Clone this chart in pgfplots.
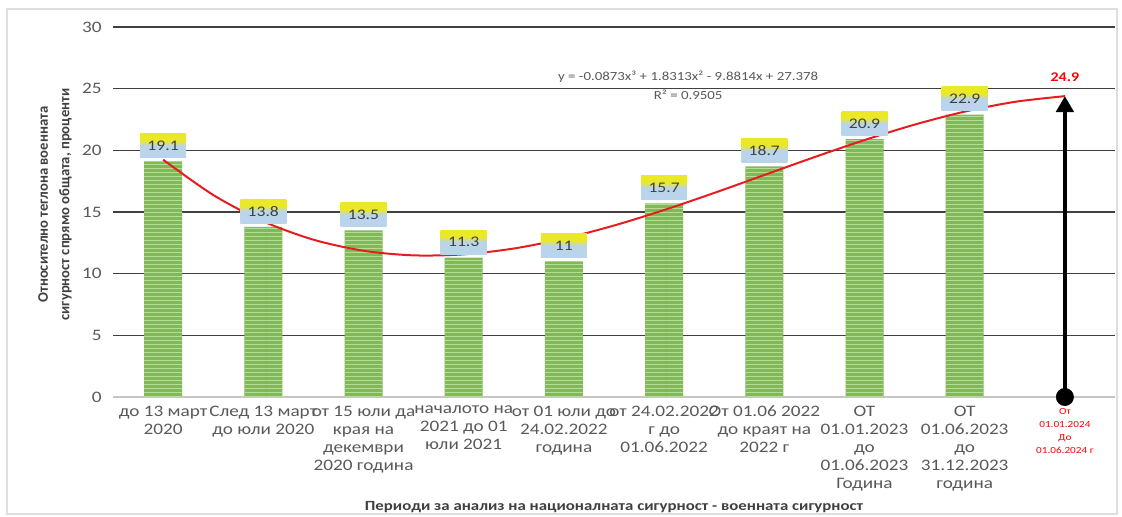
\documentclass[border=0pt]{standalone}
\usepackage{pgfplots}
\pgfplotsset{compat=1.18}
\usepackage{fontspec}
\setmainfont{Carlito}[FakeStretch=1.2]
\newfontfamily\ylabfont{Carlito}
\usetikzlibrary{patterns,arrows.meta}
\definecolor{barfill}{RGB}{128,186,88}
\definecolor{barline}{RGB}{182,220,152}
\definecolor{lyel}{RGB}{235,232,40}
\definecolor{lblue}{RGB}{185,212,235}
\definecolor{tickgray}{RGB}{89,89,89}
\definecolor{gridc}{RGB}{64,64,64}
\definecolor{trend}{RGB}{228,30,30}
\definecolor{frame}{RGB}{222,222,222}
\pgfdeclareverticalshading{lblshade}{100bp}{color(0bp)=(lblue); color(50bp)=(lblue); color(61bp)=(lyel); color(100bp)=(lyel)}
\begin{document}
\begin{tikzpicture}
\begin{axis}[
  width=751.5pt, height=277.5pt, scale only axis,
  xmin=0.5, xmax=10.5, ymin=0, ymax=30,
  clip=false,
  axis x line*=bottom, axis y line*=left,
  x axis line style={draw=gray!45, line width=1.5pt},
  y axis line style={draw=none},
  major tick length=0pt,
  ytick={5,10,...,30}, extra y ticks={0}, extra y tick style={grid=none},
  ymajorgrids, grid style={gridc, line width=1pt},
  /pgf/number format/assume math mode=true,
  yticklabel style={text=tickgray, font=\fontsize{12}{14}\selectfont, xshift=-5pt},
  xtick={1,...,10},
  xticklabels={
    {до 13 март\\2020},
    {След 13 март\\до юли 2020},
    {от 15 юли да\\края на\\декември\\2020 година},
    {началото на\\2021 до 01\\юли 2021},
    {от 01 юли до\\24.02.2022\\година},
    {от 24.02.2022\\г до\\01.06.2022},
    {От 01.06 2022\\до краят на\\2022 г},
    {ОТ\\01.01.2023\\до\\01.06.2023\\Година},
    {ОТ\\01.06.2023\\до\\31.12.2023\\година},
    {{\color{red}\fontsize{7}{9.75}\selectfont\begin{tabular}{@{}c@{}}От\\01.01.2024\\До\\01.06.2024 г\end{tabular}}}
  },
  xticklabel style={text=tickgray, font=\fontsize{12}{13.5}\selectfont, align=center, anchor=north, yshift=-3pt},
  bar width=28.5pt,
  ylabel={Относително теглона военната\\сигурност спрямо общата, проценти},
  ylabel style={at={(rel axis cs:-0.0579,0.52)}, anchor=center, align=center, text=gridc, font=\ylabfont\bfseries\fontsize{11}{16}\selectfont},
  xlabel={Периоди за анализ на националната сигурност - военната сигурност},
  xlabel style={at={(rel axis cs:0.5,0)}, anchor=center, yshift=-82.5pt, text=gridc, font=\bfseries\fontsize{10.5}{12}\selectfont},
]
\addplot[ybar, fill=barfill, draw=none,
  postaction={pattern=horizontal lines, pattern color=barline},
  nodes near coords,
  every node near coord/.style={shade, shading=lblshade, minimum width=34.5pt, minimum height=18pt, inner sep=0pt, anchor=south, yshift=2.5pt, text=gridc, font=\fontsize{11}{12}\selectfont}
] coordinates {(1,19.1) (2,13.8) (3,13.5) (4,11.3) (5,11) (6,15.7) (7,18.7) (8,20.9) (9,22.9)};

\addplot[trend, line width=1.5pt, smooth] coordinates {
 (1,19.241) (1.5,16.382) (2,14.242) (2.5,12.756) (3,11.858) (3.5,11.484)
 (4,11.566) (4.5,12.040) (5,12.841) (5.5,13.903) (6,15.160) (6.5,16.546)
 (7,17.998) (7.5,19.448) (8,20.832) (8.5,22.085) (9,23.139) (9.5,23.931) (10,24.394)};

\addplot[black, line width=3.5pt, -{Triangle[width=13pt,length=12pt]}] coordinates {(10,0) (10,24.394)}
  node[pos=1, anchor=south, yshift=6pt, text=red, font=\bfseries\fontsize{10}{12}\selectfont] {24.9};
\addplot[only marks, mark=*, mark size=6.5pt, black] coordinates {(10,0)};

\node[text=tickgray, font=\fontsize{9.3}{11}\selectfont] at (axis cs:6.24,25.95) {y = -0.0873x³ + 1.8313x² - 9.8814x + 27.378};
\node[text=tickgray, font=\fontsize{9.3}{11}\selectfont] at (axis cs:6.24,24.49) {R² = 0.9505};

\coordinate (sw) at (rel axis cs:0,0);
\coordinate (ne) at (rel axis cs:1,1);
\end{axis}
\pgfresetboundingbox
\draw[frame, line width=0.8pt] ([shift={(-79.5pt,-87.75pt)}]sw) rectangle ([shift={(1.5pt,13.5pt)}]ne);
\path ([shift={(-84.75pt,-90pt)}]sw) rectangle ([shift={(5.25pt,20.25pt)}]ne);
\end{tikzpicture}
\end{document}
